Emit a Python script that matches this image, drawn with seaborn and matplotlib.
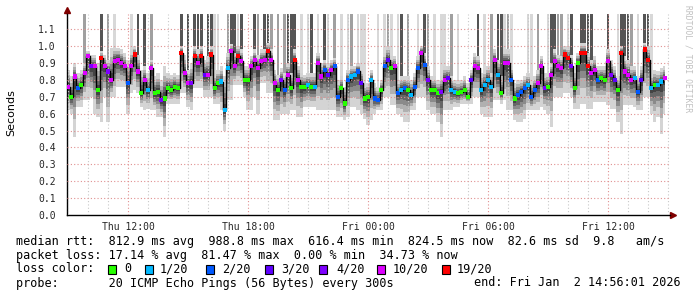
import numpy as np
import pandas as pd
import matplotlib
matplotlib.use("Agg")
import matplotlib.pyplot as plt
import seaborn as sns
from matplotlib.patches import Rectangle

# ---------------- data (10-minute steps starting Thu 09:00) ----------------
start_hour = 9.0
step_minutes = 10

median = [
    0.76, 0.70, 0.82, 0.75, 0.77, 0.84, 0.94, 0.88, 0.88, 0.74,
    0.93, 0.88, 0.85, 0.80, 0.91, 0.92, 0.90, 0.88, 0.78, 0.88,
    0.95, 0.85, 0.72, 0.80, 0.74, 0.87, 0.72, 0.73, 0.68, 0.69,
    0.75, 0.74, 0.76, 0.75, 0.96, 0.84, 0.78, 0.78, 0.94, 0.90,
    0.94, 0.83, 0.83, 0.95, 0.75, 0.78, 0.79, 0.62, 0.87, 0.97,
    0.88, 0.94, 0.91, 0.80, 0.80, 0.88, 0.92, 0.87, 0.91, 0.92,
    0.97, 0.92, 0.78, 0.74, 0.80, 0.74, 0.83, 0.75, 0.92, 0.80,
    0.76, 0.76, 0.77, 0.76, 0.76, 0.90, 0.82, 0.86, 0.83, 0.86,
    0.88, 0.70, 0.75, 0.66, 0.80, 0.82, 0.83, 0.85, 0.78, 0.69,
    0.70, 0.80, 0.69, 0.68, 0.74, 0.88, 0.92, 0.87, 0.88, 0.72,
    0.74, 0.75, 0.74, 0.71, 0.76, 0.87, 0.96, 0.89, 0.80, 0.74,
    0.74, 0.72, 0.73, 0.80, 0.81, 0.74, 0.73, 0.72, 0.73, 0.74,
    0.70, 0.80, 0.88, 0.87, 0.74, 0.77, 0.80, 0.76, 0.92, 0.83,
    0.72, 0.90, 0.90, 0.80, 0.69, 0.71, 0.73, 0.75, 0.77, 0.70,
    0.74, 0.78, 0.88, 0.75, 0.76, 0.83, 0.91, 0.88, 0.87, 0.95,
    0.93, 0.88, 0.75, 0.90, 0.96, 0.96, 0.88, 0.84, 0.86, 0.80,
    0.81, 0.80, 0.91, 0.83, 0.80, 0.74, 0.96, 0.85, 0.83, 0.80,
    0.81, 0.73, 0.80, 0.98, 0.92, 0.75, 0.77, 0.77, 0.79, 0.81,
]

loss = [
    10, 0, 10, 2, 0, 10, 10, 4, 10, 0,
    19, 10, 4, 10, 10, 10, 10, 10, 2, 10,
    19, 10, 0, 10, 1, 10, 0, 0, 4, 0,
    0, 0, 0, 0, 19, 10, 10, 4, 19, 10,
    19, 3, 10, 19, 0, 0, 1, 1, 1, 10,
    10, 19, 10, 0, 0, 10, 10, 10, 10, 10,
    19, 10, 10, 0, 4, 2, 10, 0, 19, 10,
    0, 0, 1, 0, 1, 10, 10, 2, 3, 10,
    2, 2, 0, 0, 2, 1, 1, 2, 3, 0,
    0, 1, 2, 2, 0, 2, 3, 0, 10, 2,
    1, 2, 0, 1, 2, 2, 10, 2, 4, 0,
    0, 0, 4, 10, 3, 1, 1, 0, 0, 0,
    0, 3, 10, 10, 1, 1, 1, 1, 10, 1,
    0, 10, 10, 2, 0, 2, 2, 2, 1, 2,
    2, 10, 10, 4, 0, 10, 10, 10, 10, 19,
    19, 4, 0, 0, 19, 19, 19, 10, 10, 2,
    0, 0, 10, 4, 3, 0, 19, 10, 10, 10,
    1, 2, 3, 19, 19, 1, 0, 1, 1, 10,
]

smoke_lo = [
    0.62, 0.60, 0.46, 0.64, 0.64, 0.68, 0.68, 0.70, 0.60, 0.58,
    0.55, 0.70, 0.55, 0.70, 0.70, 0.76, 0.76, 0.76, 0.60, 0.72,
    0.74, 0.72, 0.64, 0.62, 0.63, 0.62, 0.62, 0.58, 0.58, 0.46,
    0.66, 0.66, 0.66, 0.66, 0.72, 0.72, 0.64, 0.62, 0.75, 0.75,
    0.75, 0.70, 0.70, 0.70, 0.66, 0.66, 0.62, 0.50, 0.68, 0.68,
    0.77, 0.77, 0.77, 0.70, 0.62, 0.62, 0.70, 0.60, 0.78, 0.78,
    0.72, 0.72, 0.56, 0.56, 0.60, 0.60, 0.60, 0.62, 0.62, 0.58,
    0.58, 0.64, 0.64, 0.64, 0.64, 0.62, 0.62, 0.62, 0.62, 0.62,
    0.62, 0.58, 0.58, 0.56, 0.58, 0.64, 0.64, 0.62, 0.60, 0.57,
    0.53, 0.56, 0.60, 0.62, 0.62, 0.70, 0.70, 0.65, 0.65, 0.60,
    0.58, 0.55, 0.55, 0.62, 0.62, 0.70, 0.70, 0.70, 0.62, 0.60,
    0.60, 0.55, 0.46, 0.62, 0.62, 0.62, 0.64, 0.64, 0.66, 0.66,
    0.66, 0.66, 0.70, 0.70, 0.60, 0.58, 0.58, 0.58, 0.68, 0.68,
    0.66, 0.68, 0.62, 0.62, 0.56, 0.55, 0.55, 0.57, 0.62, 0.62,
    0.62, 0.62, 0.64, 0.62, 0.60, 0.52, 0.70, 0.70, 0.70, 0.72,
    0.72, 0.70, 0.63, 0.63, 0.66, 0.66, 0.63, 0.63, 0.67, 0.67,
    0.67, 0.67, 0.65, 0.63, 0.63, 0.55, 0.48, 0.65, 0.65, 0.65,
    0.64, 0.62, 0.62, 0.70, 0.70, 0.60, 0.55, 0.58, 0.48, 0.60,
]

smoke_hi = [
    0.86, 0.82, 0.90, 0.84, 0.86, 0.90, 0.97, 0.95, 0.95, 0.90,
    0.97, 0.95, 0.92, 0.99, 1.00, 0.99, 0.98, 0.96, 0.92, 0.98,
    1.00, 0.95, 0.86, 0.88, 0.84, 0.92, 0.82, 0.84, 0.80, 0.88,
    0.84, 0.83, 0.84, 0.83, 1.00, 0.95, 0.86, 0.90, 1.00, 0.98,
    1.00, 0.92, 0.94, 1.00, 0.84, 0.86, 0.88, 0.82, 0.96, 1.01,
    0.96, 1.00, 0.98, 0.88, 0.88, 0.94, 0.98, 0.95, 0.98, 0.98,
    1.02, 0.98, 0.86, 0.83, 0.87, 0.84, 0.90, 0.84, 0.98, 0.88,
    0.84, 0.83, 0.84, 0.84, 0.84, 0.96, 0.90, 0.92, 0.90, 0.92,
    0.93, 0.80, 0.82, 0.76, 0.86, 0.88, 0.88, 0.90, 0.86, 0.78,
    0.78, 0.86, 0.78, 0.76, 0.80, 0.96, 1.00, 0.94, 0.94, 0.80,
    0.82, 0.82, 0.82, 0.80, 0.84, 0.94, 1.00, 0.96, 0.88, 0.82,
    0.82, 0.80, 0.82, 0.88, 0.88, 0.82, 0.80, 0.80, 0.80, 0.82,
    0.78, 0.86, 0.96, 0.94, 0.84, 0.86, 0.88, 0.84, 0.98, 0.92,
    0.82, 0.98, 0.98, 0.88, 0.78, 0.80, 0.80, 0.82, 0.84, 0.80,
    0.82, 0.86, 0.94, 0.84, 0.84, 0.90, 0.98, 0.95, 0.94, 1.00,
    1.00, 0.95, 0.84, 0.96, 1.02, 1.02, 0.96, 0.92, 0.94, 0.88,
    0.88, 0.88, 0.98, 0.92, 0.88, 0.82, 1.00, 0.94, 0.92, 0.88,
    0.88, 0.82, 0.88, 1.02, 1.00, 0.84, 0.86, 0.85, 0.87, 0.88,
]

# shade of outlier pings running off the top (0 none, 1 light, 2 medium, 3 dark)
spike = [
    0, 0, 0, 0, 0, 2, 0, 0, 0, 0,
    3, 0, 2, 0, 1, 0, 0, 0, 0, 1,
    0, 3, 0, 3, 0, 2, 0, 0, 0, 0,
    0, 0, 0, 0, 3, 0, 3, 0, 3, 3,
    3, 0, 3, 3, 1, 1, 0, 0, 2, 3,
    3, 1, 3, 0, 0, 0, 3, 2, 0, 3,
    3, 2, 0, 2, 0, 2, 3, 3, 3, 0,
    1, 0, 1, 3, 0, 1, 0, 3, 1, 0,
    2, 0, 1, 0, 1, 2, 0, 1, 1, 1,
    0, 0, 0, 1, 0, 1, 2, 1, 0, 1,
    3, 0, 2, 0, 0, 1, 0, 3, 2, 0,
    1, 0, 1, 1, 0, 2, 0, 1, 0, 0,
    0, 0, 0, 3, 0, 1, 0, 2, 0, 3,
    3, 1, 2, 1, 0, 0, 0, 0, 1, 1,
    0, 2, 0, 0, 1, 3, 3, 2, 2, 0,
    1, 3, 0, 0, 3, 3, 3, 3, 0, 0,
    0, 0, 3, 0, 0, 1, 3, 3, 3, 2,
    0, 1, 0, 3, 3, 1, 0, 0, 0, 0,
]

tick_hours = [12, 18, 24, 30, 36]
tick_labels = ["Thu 12:00", "Thu 18:00", "Fri 00:00", "Fri 06:00", "Fri 12:00"]
y_ticks = [0.0, 0.1, 0.2, 0.3, 0.4, 0.5, 0.6, 0.7, 0.8, 0.9, 1.0, 1.1]
y_tick_labels = ["0.0", "0.1", "0.2", "0.3", "0.4", "0.5", "0.6", "0.7",
                 "0.8", "0.9", "1.0", "1.1"]

loss_levels = [0, 1, 2, 3, 4, 10, 19]
loss_names = ["0", "1/20", "2/20", "3/20", "4/20", "10/20", "19/20"]
loss_colors = ["#26ff00", "#00b8ff", "#0059ff", "#5e00ff", "#7e00ff", "#dd00ff", "#ff0000"]

line_rtt = "median rtt:  812.9 ms avg  988.8 ms max  616.4 ms min  824.5 ms now  82.6 ms sd  9.8   am/s"
line_loss = "packet loss: 17.14 % avg  81.47 % max  0.00 % min  34.73 % now"
line_probe = "probe:       20 ICMP Echo Pings (56 Bytes) every 300s"
line_end = "end: Fri Jan  2 14:56:01 2026"

# ---------------- figure ----------------
sns.set_style("white")
plt.rcParams["font.family"] = ["DejaVu Sans"]

W, H = 697, 297
fig = plt.figure(figsize=(W / 100, H / 100), dpi=100)
fig.patch.set_facecolor("white")
ax_l, ax_r, ax_t, ax_b = 67, 670, 14, 215
ax = fig.add_axes([ax_l / W, 1 - ax_b / H, (ax_r - ax_l) / W, (ax_b - ax_t) / H])
ax.set_facecolor("white")

n = len(median)
t = start_hour + np.arange(n) * step_minutes / 60.0
df = pd.DataFrame({"t": t, "median": median, "loss": loss,
                   "lo": smoke_lo, "hi": smoke_hi, "spike": spike})
med = df["median"].to_numpy()
lo = np.minimum(df["lo"].to_numpy(), med)
hi = np.maximum(df["hi"].to_numpy(), med)

YMAX = 1.19
ax.set_ylim(0, YMAX)
ax.set_xlim(8.95, 8.95 + (ax_r - ax_l) / 20.0)

# spikes (outlier pings above the graph)
spike_cols = {1: "#d8d8d8", 2: "#a0a0a0", 3: "#555555"}
for level, col in spike_cols.items():
    sel = df["spike"].to_numpy() == level
    ax.bar(t[sel], 1.4 - hi[sel], bottom=hi[sel], width=0.14, color=col,
           linewidth=0, zorder=1)

# smoke bands
fracs = [1.0, 0.7, 0.5, 0.35, 0.2]
band_cols = ["#d4d4d4", "#b0b0b0", "#8a8a8a", "#666666", "#444444"]
for f, c in zip(fracs, band_cols):
    ax.fill_between(t, med - f * (med - lo), med + f * (hi - med), step="mid",
                    color=c, linewidth=0, zorder=2)

# grid
for h in range(9, 40):
    if h in tick_hours:
        ax.axvline(h, color="#e09090", lw=0.8, ls=(0, (1, 2)), zorder=3)
    else:
        ax.axvline(h, color="#c8c8c8", lw=0.8, ls=(0, (1, 2)), zorder=3)
for y in y_ticks[1:]:
    ax.axhline(y, color="#e09090", lw=0.8, ls=(0, (1, 2)), zorder=3)

# median line + loss colored points
sns.lineplot(data=df, x="t", y="median", drawstyle="steps-mid", color="black",
             linewidth=1.0, ax=ax, zorder=4, estimator=None, sort=False)
palette = dict(zip(loss_levels, loss_colors))
sns.scatterplot(data=df, x="t", y="median", hue="loss", hue_order=loss_levels,
                palette=palette, marker="s", s=9, linewidth=0, ax=ax,
                legend=False, zorder=5)

# axes styling
for s in ["top", "right"]:
    ax.spines[s].set_visible(False)
ax.spines["bottom"].set_color("black")
ax.spines["left"].set_color("black")
ax.spines["bottom"].set_linewidth(1.0)
ax.spines["left"].set_linewidth(1.0)
ax.set_xlabel("")
ax.set_ylabel("")
ax.set_xticks(tick_hours)
ax.set_xticklabels(tick_labels, fontfamily="DejaVu Sans Mono", fontsize=7)
ax.set_xticks(range(9, 40), minor=True)
ax.set_yticks(y_ticks)
ax.set_yticklabels(y_tick_labels, fontfamily="DejaVu Sans Mono", fontsize=7)
ax.tick_params(axis="x", which="both", length=2, direction="in", color="#888888", pad=5)
ax.tick_params(axis="y", length=2, direction="out", color="#888888", pad=6)

# arrows
ax.plot([1.0, 1.0 + 3 / (ax_r - ax_l)], [0, 0], color="black", lw=1,
        transform=ax.transAxes, clip_on=False)
ax.plot([1.0 + 3 / (ax_r - ax_l)], [0], marker=">", color="#800000", ms=4,
        transform=ax.transAxes, clip_on=False)
ax.plot([0, 0], [1.0, 1.0 + 3 / (ax_b - ax_t)], color="black", lw=1,
        transform=ax.transAxes, clip_on=False)
ax.plot([0], [1.0 + 4 / (ax_b - ax_t)], marker="^", color="#800000", ms=4,
        transform=ax.transAxes, clip_on=False)

# labels
fig.text(11 / W, 1 - 113 / H, "Seconds", rotation=90, ha="center", va="center",
         fontsize=8, color="black")
fig.text(688 / W, 1 - 5 / H, "RRDTOOL / TOBI OETIKER", rotation=270, ha="center",
         va="top", fontsize=5.8, color="#c0c0c0", fontfamily="DejaVu Sans Mono")

mono = dict(fontfamily="DejaVu Sans Mono", fontsize=8.5, va="center", color="black")
fig.text(16 / W, 1 - 241 / H, line_rtt, **mono)
fig.text(16 / W, 1 - 255 / H, line_loss, **mono)
fig.text(16 / W, 1 - 269 / H, "loss color:", **mono)
sq_x = [108, 145, 206, 265, 319, 377, 442]
lab_x = [124, 160, 222, 281, 336, 393, 457]
for xs, xl, name, col in zip(sq_x, lab_x, loss_names, loss_colors):
    fig.patches.append(Rectangle((xs / W, 1 - 273.5 / H), 8 / W, 9 / H,
                                 transform=fig.transFigure, facecolor=col,
                                 edgecolor="black", linewidth=0.8))
    fig.text(xl / W, 1 - 269 / H, name, **mono)
fig.text(16 / W, 1 - 283 / H, line_probe, **mono)
fig.text(681 / W, 1 - 283 / H, line_end, ha="right", **mono)

fig.savefig("out.png", dpi=100, facecolor="white")
